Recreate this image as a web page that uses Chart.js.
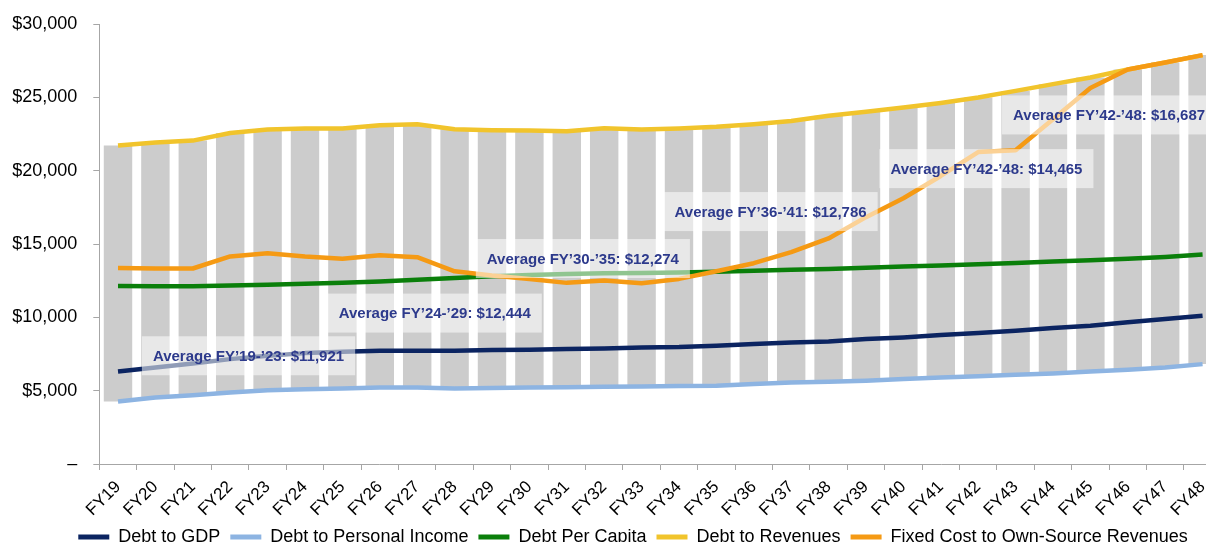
<!DOCTYPE html>
<html>
<head>
<meta charset="utf-8">
<script src="https://cdn.jsdelivr.net/npm/chart.js"></script>
<style>
  html, body { margin: 0; padding: 0; background: #fff; overflow: hidden; }
  canvas { display: block; }
</style>
</head>
<body>
<canvas id="debtChart" width="1224" height="556"></canvas>
<script>
const years = ['FY19', 'FY20', 'FY21', 'FY22', 'FY23', 'FY24', 'FY25', 'FY26', 'FY27', 'FY28',
    'FY29', 'FY30', 'FY31', 'FY32', 'FY33', 'FY34', 'FY35', 'FY36', 'FY37', 'FY38',
    'FY39', 'FY40', 'FY41', 'FY42', 'FY43', 'FY44', 'FY45', 'FY46', 'FY47', 'FY48'];

const debtToGdp = [6310, 6580, 6850, 7150, 7380, 7560, 7650, 7720, 7720, 7720,
    7770, 7790, 7840, 7880, 7950, 7970, 8060, 8180, 8290, 8360,
    8520, 8630, 8790, 8930, 9090, 9270, 9430, 9660, 9890, 10110];
const debtToPersonalIncome = [4260, 4530, 4690, 4870, 5030, 5100, 5150, 5210, 5210, 5150,
    5190, 5210, 5240, 5270, 5290, 5310, 5340, 5450, 5560, 5600,
    5670, 5790, 5900, 5990, 6080, 6170, 6310, 6420, 6580, 6810];
const debtPerCapita = [12140, 12120, 12120, 12170, 12230, 12290, 12360, 12440, 12560, 12680,
    12800, 12880, 12950, 13000, 13030, 13060, 13100, 13180, 13250, 13300,
    13380, 13460, 13540, 13620, 13700, 13800, 13900, 14000, 14120, 14280];
const debtToRevenues = [21710, 21920, 22050, 22570, 22800, 22870, 22870, 23100, 23170, 22830,
    22760, 22740, 22690, 22900, 22800, 22870, 22990, 23170, 23390, 23740,
    24010, 24300, 24620, 24990, 25440, 25900, 26350, 26900, 27380, 27880];
const fixedCostToOwnSource = [13370, 13330, 13330, 14150, 14370, 14150, 13990, 14240, 14100, 13140,
    12850, 12620, 12350, 12510, 12330, 12620, 13140, 13690, 14440, 15380,
    16830, 18120, 19640, 21270, 21390, 23500, 25630, 26900, 27380, 27880];

// average call-outs: text, centre (category position) and centre value
const avgText = ['Average FY\u201919-\u201923: $11,921', 'Average FY\u201924-\u201929: $12,444',
    'Average FY\u201930-\u201935: $12,274', 'Average FY\u201936-\u201941: $12,786',
    'Average FY\u201942-\u201948: $14,465', 'Average FY\u201942-\u201948: $16,687'];
const avgAt = [3.49, 8.47, 12.43, 17.45, 23.22, 26.5];
const avgValue = [7380, 10290, 14010, 17210, 20140, 23800];

const yTicks = [0, 5000, 10000, 15000, 20000, 25000, 30000];

const colors = {
    gdp: '#0B2461',
    income: '#8DB4E2',
    capita: '#0A7F0A',
    revenues: '#F1C42C',
    fixed: '#F59A14',
    range: '#CCCCCC'
};

const FONT = 'Arial, "Liberation Sans", sans-serif';
Chart.defaults.font.family = FONT;

const series = [debtToGdp, debtToPersonalIncome, debtPerCapita, debtToRevenues, fixedCostToOwnSource];
// gray bars span lowest to highest metric each year
const rangeBars = years.map((_, i) => {
    const vals = series.map(s => s[i]);
    return [Math.min(...vals), Math.max(...vals)];
});

function lineSet(label, data, color, order) {
    return {
        type: 'line',
        label: label,
        data: data,
        borderColor: color,
        backgroundColor: color,
        borderWidth: 4.5,
        pointRadius: 0,
        tension: 0,
        borderJoinStyle: 'round',
        order: order
    };
}

// semi-transparent call-out boxes on top of everything
const avgBoxes = {
    id: 'avgBoxes',
    afterDatasetsDraw(chart) {
        const ctx = chart.ctx;
        const xs = chart.scales.x, ys = chart.scales.y;
        ctx.save();
        ctx.font = 'bold 15px ' + FONT;
        ctx.textAlign = 'center';
        ctx.textBaseline = 'middle';
        avgText.forEach((t, i) => {
            const cx = xs.getPixelForValue(avgAt[i]);
            const cy = ys.getPixelForValue(avgValue[i]);
            const w = ctx.measureText(t).width + 22;
            const h = 39;
            ctx.fillStyle = 'rgba(255,255,255,0.55)';
            ctx.fillRect(cx - w / 2, cy - h / 2, w, h);
            ctx.fillStyle = '#2D3A8C';
            ctx.fillText(t, cx, cy + 1);
        });
        ctx.restore();
    }
};

// the legend sits a little right of the canvas centre, as in the source
const legendShift = {
    id: 'legendShift',
    afterLayout(chart) {
        chart.legend.left += 21;
        chart.legend.right += 21;
    }
};

const ctx = document.getElementById('debtChart').getContext('2d');
new Chart(ctx, {
    type: 'bar',
    data: {
        labels: years,
        datasets: [
            lineSet('Debt to GDP', debtToGdp, colors.gdp, 4),
            lineSet('Debt to Personal Income', debtToPersonalIncome, colors.income, 3),
            lineSet('Debt Per Capita', debtPerCapita, colors.capita, 2),
            lineSet('Debt to Revenues', debtToRevenues, colors.revenues, 1),
            lineSet('Fixed Cost to Own-Source Revenues', fixedCostToOwnSource, colors.fixed, 0),
            {
                type: 'bar',
                label: 'range',
                data: rangeBars,
                backgroundColor: colors.range,
                borderWidth: 0,
                barPercentage: 0.76,
                categoryPercentage: 1,
                order: 10
            }
        ]
    },
    options: {
        responsive: false,
        animation: false,
        layout: { padding: { left: 0, right: 0, top: 24, bottom: 0 } },
        plugins: {
            tooltip: { enabled: false },
            legend: {
                position: 'bottom',
                labels: {
                    boxWidth: 31,
                    boxHeight: 5,
                    padding: 10,
                    color: '#000',
                    font: { size: 18 },
                    generateLabels(chart) {
                        return Chart.defaults.plugins.legend.labels.generateLabels(chart)
                            .filter(item => item.text !== 'range')
                            .map(item => Object.assign(item, { lineWidth: 0 }));
                    },
                    sort: (a, b) => a.datasetIndex - b.datasetIndex
                }
            }
        },
        scales: {
            x: {
                offset: true,
                grid: { offset: true, drawOnChartArea: false, tickLength: 6, color: '#A6A6A6' },
                border: { color: '#A6A6A6' },
                ticks: { autoSkip: false, minRotation: 45, maxRotation: 45, padding: 7, color: '#000', font: { size: 17 } },
                afterFit(s) { s.height = 54; }
            },
            y: {
                min: 0,
                max: 30000,
                afterBuildTicks(s) { s.ticks = yTicks.map(v => ({ value: v })); },
                grid: { drawOnChartArea: false, tickLength: 6, color: '#A6A6A6' },
                border: { color: '#A6A6A6' },
                ticks: {
                    padding: 16,
                    color: '#000',
                    font: { size: 18 },
                    callback: v => v === 0 ? '\u2013' : '$' + v.toLocaleString('en-US')
                },
                afterFit(s) {
                    s.width = 99.3;
                    s.paddingTop = 0;
                    s.paddingBottom = 0;
                }
            }
        }
    },
    plugins: [avgBoxes, legendShift]
});
</script>
</body>
</html>
